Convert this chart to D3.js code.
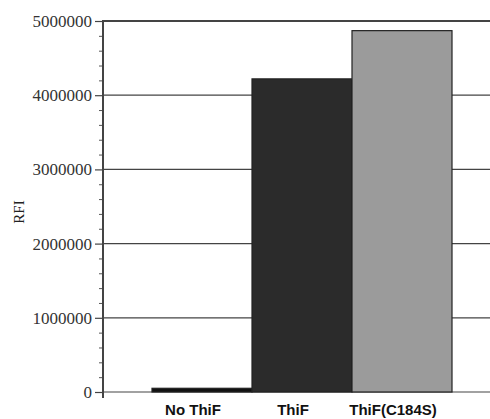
<!DOCTYPE html>
<html>
<head>
<meta charset="utf-8">
<script src="https://cdn.jsdelivr.net/npm/d3@7"></script>
<style>
  html, body { margin: 0; padding: 0; background: #fff; }
</style>
</head>
<body>
<div id="chart"></div>
<script>
// data
const categories = ['No ThiF', 'ThiF', 'ThiF(C184S)'];
const rfiValues = [50000, 4220000, 4870000];
const barColors = ['#111111', '#2b2b2b', '#9b9b9b'];
const majorTicks = [0, 1000000, 2000000, 3000000, 4000000, 5000000];

const W = 490, H = 419;
const serif = '"Liberation Serif", "Times New Roman", serif';
const svg = d3.select('#chart').append('svg')
    .attr('width', W).attr('height', H);

const y = d3.scaleLinear().domain([0, 5000000]).range([392, 21]);
const x = d3.scaleBand().domain(categories).range([152, 452]).padding(0);
const axisX = 103, rightEdge = 490;

// gridlines at the major ticks
svg.append('g').selectAll('line')
    .data(majorTicks)
    .join('line')
    .attr('x1', axisX).attr('x2', rightEdge)
    .attr('y1', d => y(d)).attr('y2', d => y(d))
    .attr('stroke', '#444')
    .attr('stroke-width', d => d === 5000000 ? 2 : 1.2);

// bars
svg.append('g').selectAll('rect')
    .data(categories)
    .join('rect')
    .attr('x', d => x(d))
    .attr('width', x.bandwidth())
    .attr('y', (d, i) => y(rfiValues[i]))
    .attr('height', (d, i) => y(0) - y(rfiValues[i]))
    .attr('fill', (d, i) => barColors[i])
    .attr('stroke', '#222')
    .attr('stroke-width', 1.2);

// y axis with major and minor ticks on the left
const yAxis = d3.axisLeft(y)
    .tickValues(majorTicks)
    .tickFormat(d3.format('d'))
    .tickSize(8)
    .tickPadding(3);

const gy = svg.append('g')
    .attr('transform', `translate(${axisX},0)`)
    .call(yAxis)
    .attr('font-family', null);
gy.select('.domain').remove();
gy.selectAll('.tick line').attr('stroke', '#444').attr('stroke-width', 1.2);
gy.selectAll('.tick text')
    .style('font-family', serif)
    .style('font-size', '17px')
    .attr('fill', '#333');

const minorAxis = d3.axisLeft(y)
    .tickValues(d3.range(0, 5000001, 200000).filter(v => v % 1000000 !== 0))
    .tickFormat('')
    .tickSize(4);
const gm = svg.append('g')
    .attr('transform', `translate(${axisX},0)`)
    .call(minorAxis);
gm.select('.domain').remove();
gm.selectAll('.tick line').attr('stroke', '#555');

// axis spine
svg.append('line')
    .attr('x1', axisX).attr('x2', axisX)
    .attr('y1', 20).attr('y2', 398)
    .attr('stroke', '#444').attr('stroke-width', 2);

// category labels
const xAxis = d3.axisBottom(x).tickSize(0).tickPadding(12);
const gx = svg.append('g')
    .attr('transform', `translate(0,${y(0)})`)
    .call(xAxis);
gx.select('.domain').remove();
gx.selectAll('.tick text')
    .attr('dx', -9)
    .style('font-family', '"Liberation Sans", Arial, sans-serif')
    .style('font-weight', 'bold')
    .style('font-size', '15px')
    .attr('fill', '#111');

// y title
svg.append('text')
    .attr('transform', 'translate(24,212) rotate(-90)')
    .attr('text-anchor', 'middle')
    .style('font-family', serif)
    .style('font-size', '15px')
    .attr('fill', '#222')
    .text('RFI');
</script>
</body>
</html>
